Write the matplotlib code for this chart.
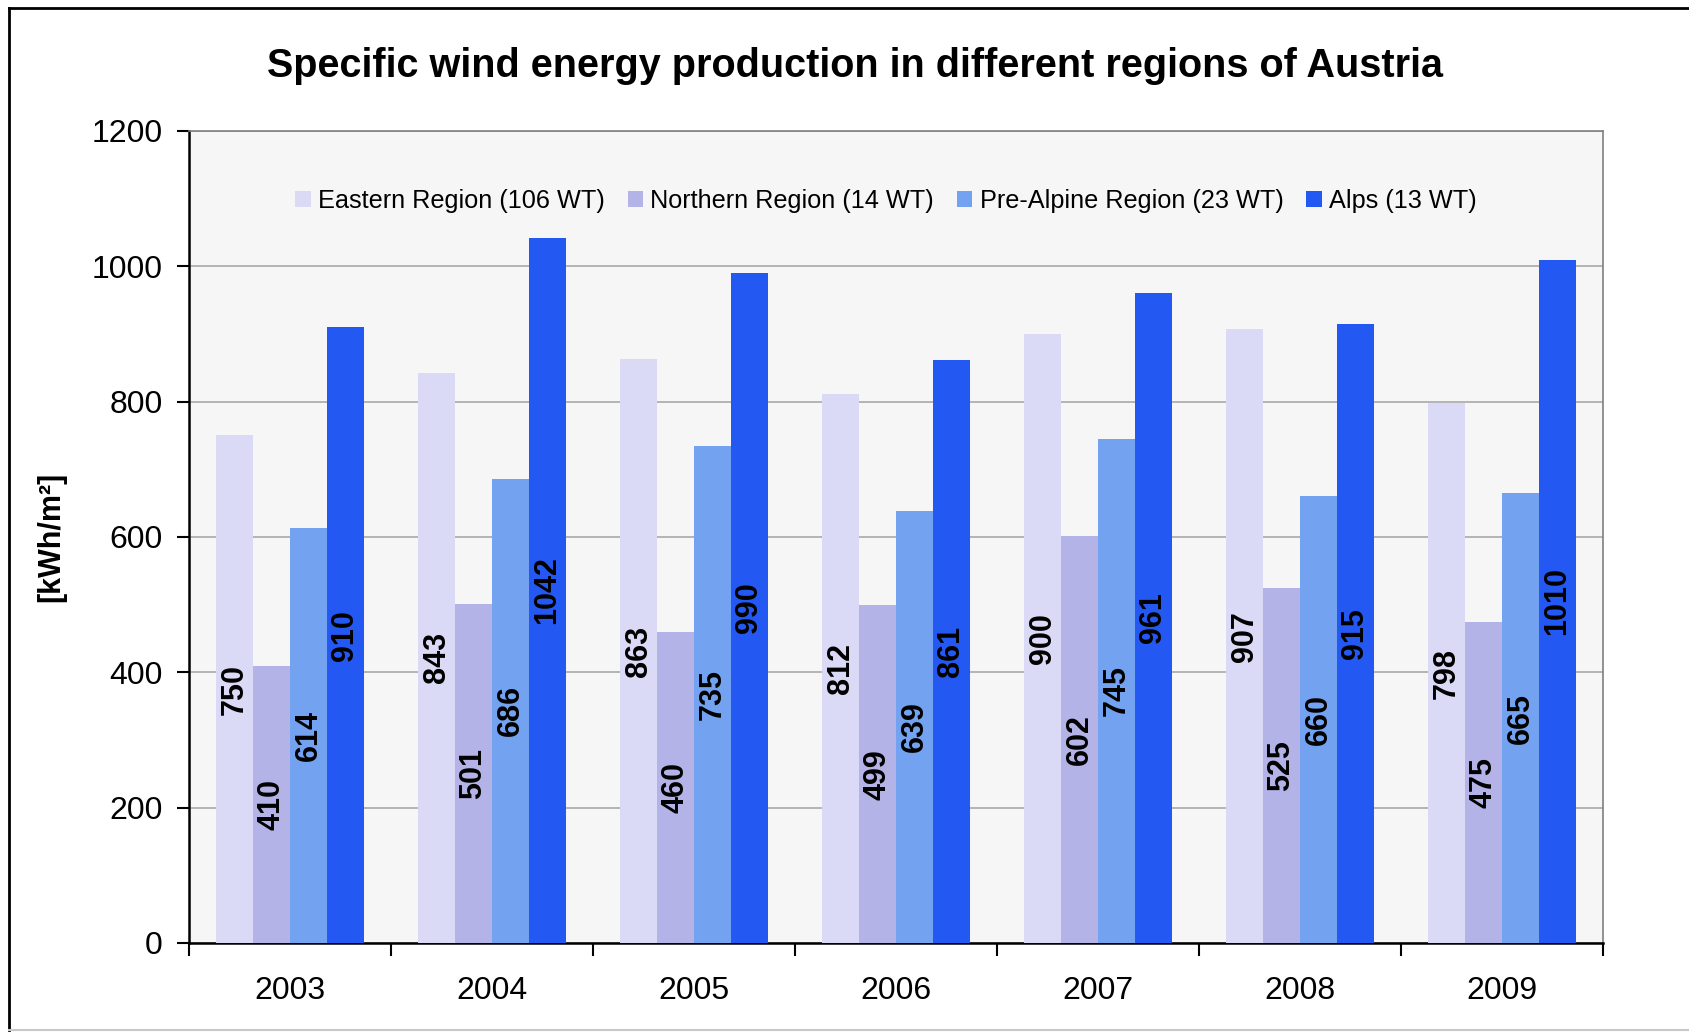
import numpy as np
import matplotlib.pyplot as plt
from matplotlib.lines import Line2D

years = ['2003', '2004', '2005', '2006', '2007', '2008', '2009']
series_names = ['Eastern Region (106 WT)', 'Northern Region (14 WT)',
                'Pre-Alpine Region (23 WT)', 'Alps (13 WT)']
eastern = [750, 843, 863, 812, 900, 907, 798]
northern = [410, 501, 460, 499, 602, 525, 475]
pre_alpine = [614, 686, 735, 639, 745, 660, 665]
alps = [910, 1042, 990, 861, 961, 915, 1010]

colors = ['#dadaf6', '#b3b3e8', '#72a2f0', '#2458f2']

plt.rcParams['font.family'] = ['Liberation Sans', 'DejaVu Sans']

fig = plt.figure(figsize=(16.89, 10.33), dpi=100)
ax = fig.add_axes([189 / 1689, 1 - 943 / 1033, (1603 - 189) / 1689, (943 - 131) / 1033])
ax.set_facecolor('#f6f6f6')

x = np.arange(len(years))
w = 0.183
all_series = [eastern, northern, pre_alpine, alps]
for i, (vals, name, c) in enumerate(zip(all_series, series_names, colors)):
    pos = x + (i - 1.5) * w
    bars = ax.bar(pos, vals, w, color=c, label=name, zorder=3)
    ax.bar_label(bars, labels=[str(v) for v in vals], label_type='center',
                 rotation=90, fontsize=22, fontweight='bold', color='black', zorder=4)

ax.set_xlim(-0.5, len(years) - 0.5)
ax.set_ylim(0, 1200)
ax.set_yticks(range(0, 1201, 200))
ax.yaxis.grid(True, color='#a8a8a8', linewidth=1.2, zorder=0)
ax.set_axisbelow(True)

ax.set_xticks(x)
ax.set_xticklabels(years)
ax.set_xticks(np.arange(-0.5, len(years), 1), minor=True)
ax.tick_params(axis='x', which='major', length=0, labelsize=23, pad=24)
ax.tick_params(axis='x', which='minor', length=9, width=1.5, color='black')
ax.tick_params(axis='y', length=9, width=1.5, labelsize=23, pad=10)

for s in ['left', 'bottom']:
    ax.spines[s].set_color('black')
    ax.spines[s].set_linewidth(1.8)
for s in ['top', 'right']:
    ax.spines[s].set_color('#808080')
    ax.spines[s].set_linewidth(1.2)

ax.set_ylabel('[kWh/m²]', fontsize=22, fontweight='bold', labelpad=18)
fig.text(0.5 + 0.006, 1 - 66 / 1033, 'Specific wind energy production in different regions of Austria',
         ha='center', va='center', fontsize=28.5, fontweight='bold')

leg = ax.legend(loc='upper center', bbox_to_anchor=(0.493, 0.957), ncol=4, frameon=False,
                fontsize=18.2, handlelength=0.6, handleheight=0.6, handletextpad=0.3,
                columnspacing=0.9)

# outer chart frame
fig.add_artist(Line2D([9 / 1689, 9 / 1689], [0.003, 1 - 8 / 1033], color='black', lw=2))
fig.add_artist(Line2D([9 / 1689, 1], [1 - 8 / 1033, 1 - 8 / 1033], color='black', lw=2))
fig.add_artist(Line2D([9 / 1689, 1], [0.003, 0.003], color='#c8c8c8', lw=1.5))

fig.savefig('out.png', dpi=100)
